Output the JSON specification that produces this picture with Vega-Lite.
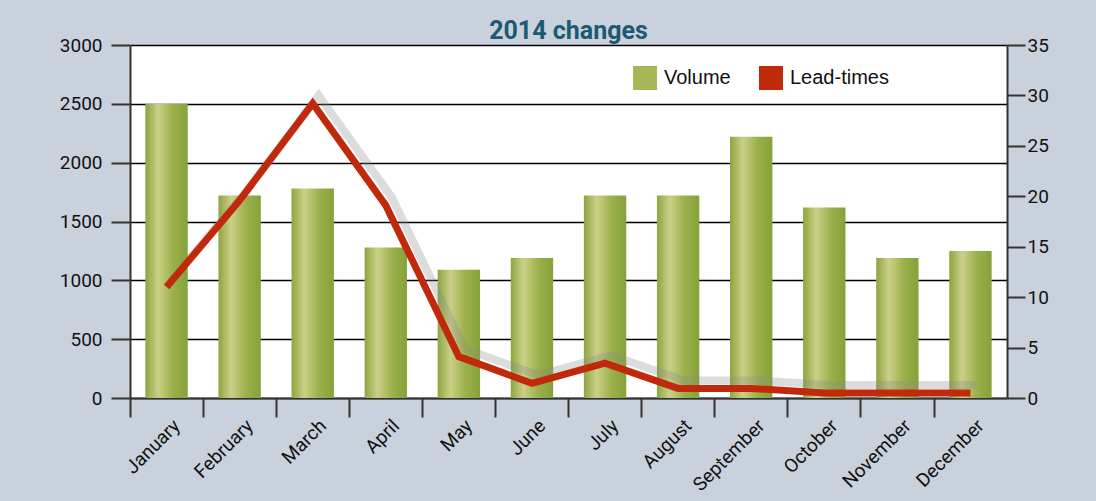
{
  "$schema": "https://vega.github.io/schema/vega-lite/v6.json",
  "autosize": {"type": "none"},
  "width": 877,
  "height": 353,
  "padding": {"left": 130, "top": 45, "right": 89, "bottom": 103},
  "background": "#c9d1dc",
  "config": {
    "view": {"fill": "white", "stroke": null},
    "axis": {
      "labelFont": "Roboto",
      "labelFontSize": 19,
      "labelColor": "#111111",
      "domainColor": "#333333",
      "domainWidth": 2,
      "tickColor": "#333333",
      "tickWidth": 2,
      "tickSize": 19,
      "title": null
    }
  },
  "title": {
    "text": "2014 changes",
    "font": "Roboto",
    "fontSize": 25,
    "fontWeight": "bold",
    "color": "#1b5a72",
    "anchor": "middle",
    "frame": "group",
    "baseline": "alphabetic",
    "offset": 4,
    "dy": 32
  },
  "data": {
    "values": [
      {"month": "January", "volume": 2500, "lead": 11},
      {"month": "February", "volume": 1720, "lead": 19.6},
      {"month": "March", "volume": 1780, "lead": 29.2},
      {"month": "April", "volume": 1280, "lead": 19.1},
      {"month": "May", "volume": 1090, "lead": 4.1},
      {"month": "June", "volume": 1190, "lead": 1.45},
      {"month": "July", "volume": 1720, "lead": 3.45},
      {"month": "August", "volume": 1720, "lead": 0.95},
      {"month": "September", "volume": 2220, "lead": 0.95},
      {"month": "October", "volume": 1620, "lead": 0.5},
      {"month": "November", "volume": 1190, "lead": 0.5},
      {"month": "December", "volume": 1250, "lead": 0.5}
    ]
  },
  "encoding": {
    "x": {
      "field": "month",
      "type": "nominal",
      "sort": null,
      "scale": {"paddingInner": 0.42, "paddingOuter": 0.21},
      "axis": {
        "bandPosition": -0.36,
        "labelAngle": -45,
        "labelAlign": "right",
        "labelBaseline": "top",
        "labelOffset": 4,
        "labelPadding": -1,
        "grid": false
      }
    }
  },
  "layer": [
    {
      "mark": {
        "type": "bar",
        "color": {
          "gradient": "linear",
          "x1": 0, "x2": 1, "y1": 0, "y2": 0,
          "stops": [
            {"offset": 0, "color": "#8ca53f"},
            {"offset": 0.3, "color": "#cbd088"},
            {"offset": 0.65, "color": "#9cb04c"},
            {"offset": 1, "color": "#86a23a"}
          ]
        }
      },
      "encoding": {
        "y": {
          "field": "volume",
          "type": "quantitative",
          "scale": {"domain": [0, 3000]},
          "axis": {
            "values": [0, 500, 1000, 1500, 2000, 2500, 3000],
            "format": "d",
            "grid": true,
            "gridColor": "#000000",
            "gridOpacity": 1,
            "gridWidth": 1.3,
            "labelPadding": 9
          }
        }
      }
    },
    {
      "mark": {"type": "line", "color": "#8a8a8a", "opacity": 0.3, "strokeWidth": 8, "xOffset": 6, "yOffset": -8},
      "encoding": {
        "y": {"field": "lead", "type": "quantitative", "scale": {"domain": [0, 35]}, "axis": null}
      }
    },
    {
      "mark": {"type": "line", "color": "#c0290b", "strokeWidth": 7},
      "encoding": {
        "y": {
          "field": "lead",
          "type": "quantitative",
          "scale": {"domain": [0, 35]},
          "axis": {
            "orient": "right",
            "values": [0, 5, 10, 15, 20, 25, 30, 35],
            "tickSize": 18,
            "labelPadding": 2,
            "grid": false
          }
        }
      }
    },
    {
      "data": {"values": [{"series": "Volume"}, {"series": "Lead-times"}]},
      "mark": {"type": "square", "opacity": 0},
      "encoding": {
        "x": {"value": 400},
        "y": {"value": 200},
        "color": {
          "field": "series",
          "type": "nominal",
          "scale": {"domain": ["Volume", "Lead-times"], "range": ["#a7b758", "#c0290b"]},
          "legend": {
            "orient": "none",
            "legendX": 503,
            "legendY": 21,
            "direction": "horizontal",
            "title": null,
            "symbolType": "square",
            "symbolSize": 576,
            "symbolOpacity": 1,
            "symbolStrokeWidth": 0,
            "labelFont": "Liberation Sans",
            "labelFontSize": 20,
            "labelColor": "#111111",
            "labelOffset": 7,
            "columnPadding": 28,
            "padding": 0
          }
        }
      }
    }
  ],
  "resolve": {"scale": {"y": "independent"}}
}
